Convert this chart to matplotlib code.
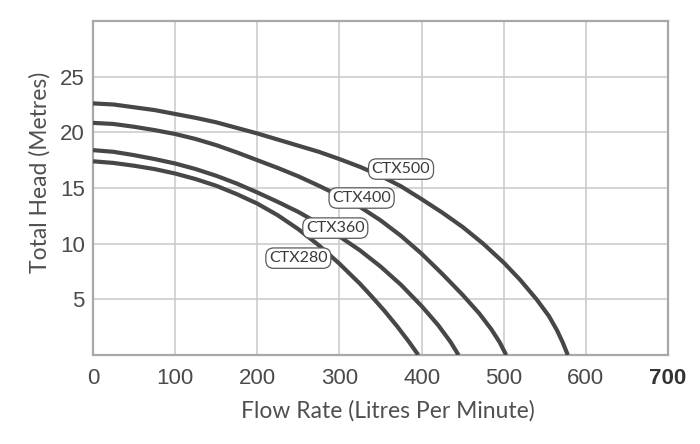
import matplotlib
matplotlib.use('Agg')

import matplotlib.pyplot as plt

# pump curves: flow (L/min) vs head (m)
ctx500_flow = [0, 25, 50, 75, 100, 125, 150, 175, 200, 225, 250, 275, 300, 325, 350,
               375, 400, 425, 450, 475, 500, 520, 540, 555, 565, 572, 578]
ctx500_head = [22.6, 22.5, 22.25, 22.0, 21.65, 21.3, 20.9, 20.4, 19.9, 19.35, 18.8, 18.25,
               17.6, 16.9, 16.1, 15.15, 14.0, 12.8, 11.5, 10.0, 8.3, 6.75, 5.0, 3.5, 2.2,
               1.1, 0]

ctx400_flow = [0, 25, 50, 75, 100, 125, 150, 175, 200, 225, 250, 275, 300, 325, 350,
               375, 400, 425, 450, 470, 485, 495, 503]
ctx400_head = [20.85, 20.75, 20.5, 20.2, 19.85, 19.4, 18.85, 18.2, 17.5, 16.8, 16.05, 15.2,
               14.3, 13.3, 12.1, 10.7, 9.1, 7.3, 5.4, 3.75, 2.3, 1.15, 0]

ctx360_flow = [0, 25, 50, 75, 100, 125, 150, 175, 200, 225, 250, 275, 300, 325, 350,
               375, 400, 420, 435, 445]
ctx360_head = [18.4, 18.25, 17.95, 17.6, 17.2, 16.7, 16.1, 15.4, 14.6, 13.75, 12.85, 11.8,
               10.65, 9.4, 7.95, 6.3, 4.4, 2.7, 1.2, 0]

ctx280_flow = [0, 25, 50, 75, 100, 125, 150, 175, 200, 225, 250, 275, 300, 325, 340,
               355, 370, 385, 396]
ctx280_head = [17.4, 17.25, 17.0, 16.7, 16.3, 15.8, 15.2, 14.45, 13.6, 12.55, 11.3, 9.85,
               8.2, 6.4, 5.2, 3.95, 2.6, 1.15, 0]

names = ['CTX500', 'CTX400', 'CTX360', 'CTX280']
label_x = [375, 327, 295, 250]
label_y = [16.7, 14.1, 11.4, 8.7]

xticks = [0, 100, 200, 300, 400, 500, 600, 700]
yticks = [5, 10, 15, 20, 25]

line_col = '#474747'
grid_col = '#c9c9c9'
text_col = '#4a4a4a'

fig = plt.figure(figsize=(7, 4.44), dpi=100)
ax = fig.add_axes([93/700, 89/444, 575/700, 334/444])

curves = [(ctx500_flow, ctx500_head), (ctx400_flow, ctx400_head),
          (ctx360_flow, ctx360_head), (ctx280_flow, ctx280_head)]
for flow, head in curves:
  ax.plot(flow, head, color=line_col, lw=3.0, solid_capstyle='butt',
          solid_joinstyle='round', zorder=3)

for name, lx, ly in zip(names, label_x, label_y):
  ax.text(lx, ly, name, ha='center', va='center', fontsize=11.5,
          family='Lato', color='#3a3a3a', zorder=5,
          bbox=dict(boxstyle='round,pad=0.2,rounding_size=0.5',
                    fc='white', ec='#5a5a5a', lw=0.9))

ax.set_xlim(0, 700)
ax.set_ylim(0, 30)
ax.set_xticks(xticks)
ax.set_yticks(yticks)
ax.set_xticklabels([str(t) for t in xticks])
ax.set_yticklabels([str(t) for t in yticks])

# vertical grid at every 100 and horizontal grid at every 5 (30 is the frame)
for gx in xticks[1:-1]:
  ax.axvline(gx, color=grid_col, lw=1.1, zorder=1)
for gy in yticks:
  ax.axhline(gy, color=grid_col, lw=1.1, zorder=1)

ax.tick_params(length=0, labelsize=16, colors=text_col)
ax.tick_params(axis='x', pad=9)
ax.tick_params(axis='y', pad=6)
for lab in ax.get_xticklabels() + ax.get_yticklabels():
  lab.set_family('Liberation Sans')
ax.get_xticklabels()[-1].set_fontweight('bold')
ax.get_xticklabels()[-1].set_color('#333333')

for sp in ax.spines.values():
  sp.set_color('#a8a8a8')
  sp.set_linewidth(1.6)

fig.text(388/700, 1 - 411/444, 'Flow Rate (Litres Per Minute)', ha='center', va='center',
         fontsize=16.5, family='Lato', color='#505050')
fig.text(40/700, 1 - 172/444, 'Total Head (Metres)', ha='center', va='center',
         rotation=90, fontsize=16.5, family='Lato', color='#505050')

fig.savefig('out.png', dpi=100, facecolor='white')
